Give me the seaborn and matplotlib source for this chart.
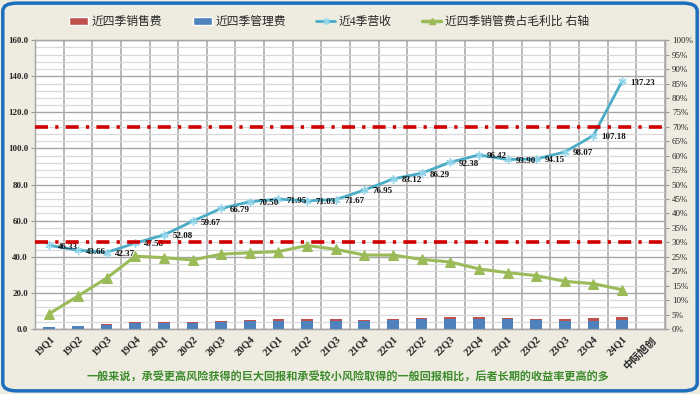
import numpy as np
import pandas as pd
import matplotlib
matplotlib.use("Agg")
import matplotlib.pyplot as plt
from matplotlib.patches import Patch, FancyBboxPatch
from matplotlib.lines import Line2D
from matplotlib.ticker import FuncFormatter
import seaborn as sns

# 数据
quarters = ["19Q1", "19Q2", "19Q3", "19Q4", "20Q1", "20Q2", "20Q3", "20Q4",
            "21Q1", "21Q2", "21Q3", "21Q4", "22Q1", "22Q2", "22Q3", "22Q4",
            "23Q1", "23Q2", "23Q3", "23Q4", "24Q1"]
categories = quarters + ["中际旭创"]
mgmt_fee = [1.0, 1.5, 2.3, 3.1, 3.3, 3.5, 3.6, 4.2, 4.4, 4.7, 4.5,
            4.7, 5.1, 5.3, 5.6, 5.5, 5.3, 4.9, 4.5, 4.7, 5.0]
sales_fee = [0.3, 0.3, 0.3, 0.5, 0.5, 0.5, 0.9, 0.9, 0.9, 0.9, 0.8,
             0.5, 0.7, 0.7, 0.8, 0.9, 0.8, 0.8, 1.0, 1.3, 1.5]
revenue = [46.33, 43.66, 42.37, 47.58, 52.08, 59.67, 66.79, 70.50, 71.95,
           71.03, 71.67, 76.95, 83.12, 86.29, 92.38, 96.42, 93.90, 94.15,
           98.07, 107.18, 137.23]
fee_ratio = [0.053, 0.114, 0.176, 0.252, 0.247, 0.239, 0.259, 0.264, 0.268,
             0.289, 0.276, 0.256, 0.256, 0.241, 0.232, 0.208, 0.195, 0.185,
             0.165, 0.157, 0.136]
ref_lines = [0.70, 0.30]

df = pd.DataFrame({"quarter": quarters, "mgmt": mgmt_fee, "sales": sales_fee,
                   "revenue": revenue, "ratio": fee_ratio})
df["total"] = df["mgmt"] + df["sales"]
df["pos"] = np.arange(len(df))

red = "#C0504D"
blue = "#4F81BD"
cyan = "#4BACC6"
green = "#9BBB59"
bg = "#EEEBE1"

sns.set_style("white")
plt.rcParams["font.family"] = ["Liberation Serif", "Noto Sans CJK SC"]

fig = plt.figure(figsize=(7, 3.94), dpi=100, facecolor=bg)
ax = fig.add_axes([0.05, 0.165, 0.9, 0.733])
ax.set_facecolor("white")

# 堆积柱：先画总和（红），再画管理费（蓝）
sns.barplot(data=df, x="quarter", y="total", order=categories, color=red,
            saturation=1, width=0.41, ax=ax, zorder=3, linewidth=0)
sns.barplot(data=df, x="quarter", y="mgmt", order=categories, color=blue,
            saturation=1, width=0.41, ax=ax, zorder=4, linewidth=0)

sns.lineplot(data=df, x="pos", y="revenue", ax=ax, color=cyan, lw=2,
             marker=(6, 2, 0), markersize=6, markeredgecolor="#8FD4E8",
             markeredgewidth=1, zorder=5)
for p, v in zip(df["pos"], df["revenue"]):
    ax.annotate(f"{v:.2f}", (p, v), xytext=(6, -1), textcoords="offset points",
                ha="left", va="center", fontsize=6.5, fontweight="bold",
                color="#111111", zorder=6)

ax.set_xlim(-0.5, len(categories) - 0.5)
ax.set_ylim(0, 160)
ax.set_yticks(np.arange(0, 161, 20))
ax.set_yticks(np.arange(0, 161, 4), minor=True)
ax.set_xticks(np.arange(-0.5, len(categories), 1), minor=True)
ax.set_xticks(np.arange(len(categories)))
ax.set_xticklabels(categories, rotation=45, ha="right", rotation_mode="anchor",
                   fontsize=7.5, fontweight="bold")
ax.yaxis.set_major_formatter(FuncFormatter(lambda v, _: f"{v:.1f}"))
for t in ax.get_yticklabels():
    t.set_fontweight("bold")
ax.tick_params(axis="y", labelsize=6.5, length=3, color="#999999", pad=2)
ax.tick_params(axis="x", which="major", length=0, pad=4)
ax.tick_params(axis="x", which="minor", length=4, color="#999999")
ax.tick_params(axis="y", which="minor", length=0)
ax.grid(axis="y", which="minor", color="#D9D9D9", lw=0.9, zorder=0)
ax.grid(axis="y", which="major", color="#A6A6A6", lw=1.0, zorder=0)
ax.grid(axis="x", which="minor", color="#A6A6A6", lw=1.1, zorder=0)
ax.grid(axis="x", which="major", visible=False)
ax.set_axisbelow(True)
ax.set_xlabel("")
ax.set_ylabel("")
for s in ax.spines.values():
    s.set_color("#A6A6A6")
    s.set_linewidth(1)

ax2 = ax.twinx()
sns.lineplot(data=df, x="pos", y="ratio", ax=ax2, color=green, lw=2.2,
             marker="^", markersize=7, markeredgecolor=green, zorder=5)
for r in ref_lines:
    ax2.axhline(r, color="#D00000", lw=2.6, dashes=(3.6, 2.0, 0.9, 2.0), zorder=4)
ax2.set_ylim(0, 1)
ax2.set_yticks(np.arange(0, 1.001, 0.05))
ax2.yaxis.set_major_formatter(FuncFormatter(lambda v, _: f"{v * 100:.0f}%"))
ax2.tick_params(axis="y", labelsize=6.5, length=3, color="#999999", pad=2)
ax2.set_ylabel("")
ax2.set_xlabel("")
for s in ax2.spines.values():
    s.set_color("#A6A6A6")

handles = [
    Patch(facecolor=red, label="近四季销售费"),
    Patch(facecolor=blue, label="近四季管理费"),
    Line2D([], [], color=cyan, lw=2, marker=(6, 2, 0), ms=5,
           markeredgecolor="#8FD4E8", label="近4季营收"),
    Line2D([], [], color=green, lw=2.5, marker="^", ms=5, label="近四季销管费占毛利比 右轴"),
]
fig.legend(handles=handles, loc="center", bbox_to_anchor=(0.47, 0.944), ncol=4,
           frameon=False, fontsize=8.5, handlelength=1.6, handleheight=0.6,
           columnspacing=2.6, handletextpad=0.3)

fig.text(0.497, 0.043,
         "一般来说，承受更高风险获得的巨大回报和承受较小风险取得的一般回报相比，后者长期的收益率更高的多",
         ha="center", va="center", fontsize=8, fontweight="bold", color="#3C8C2C")

border = FancyBboxPatch((0.004, 0.008), 0.992, 0.984, boxstyle="round,pad=0,rounding_size=0.02",
                        transform=fig.transFigure, facecolor="none", edgecolor="#1E6EBE",
                        lw=2.5, clip_on=False)
fig.patches.append(border)

fig.savefig("out.png", dpi=100, facecolor=bg)
